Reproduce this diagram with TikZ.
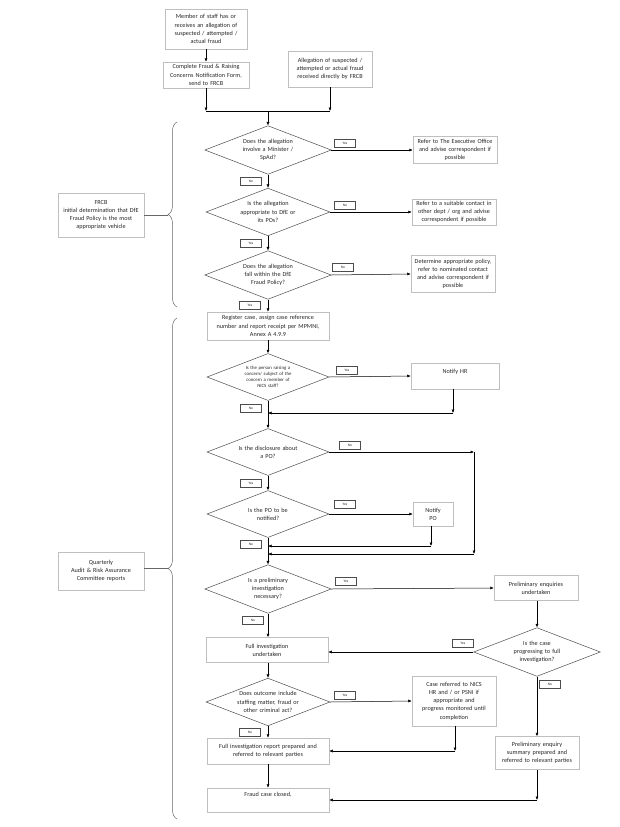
\documentclass[tikz,border=0pt]{standalone}
\usepackage{fontspec}
\setmainfont{Carlito}
\usetikzlibrary{arrows.meta, positioning, shapes.geometric, decorations.pathreplacing}

\begin{document}
\begin{tikzpicture}[
    x=1pt, y=-1pt,
    every node/.style={font=\fontsize{6.2}{8.2}\selectfont, text=black!85},
    box/.style={draw=black!25, line width=0.5pt, text width=#1, align=center, minimum height=24pt, inner sep=2pt},
    box/.default=78pt,
    decision/.style={draw=black!70, line width=0.5pt, diamond, aspect=2.6, minimum width=122pt, minimum height=47pt, inner sep=0pt, text width=70pt, align=center},
    tag/.style={draw=black!70, line width=0.4pt, font=\fontsize{3.6}{4}\selectfont, minimum width=21pt, minimum height=8pt, inner sep=0pt},
    arrow/.style={-{Latex[length=3.5pt,width=3pt]}, line width=0.5pt},
    line/.style={line width=0.5pt},
    curly/.style={draw=black!60, line width=0.5pt, decorate, decoration={brace, amplitude=9pt}}]

\useasboundingbox (0,0) rectangle (620,827);

% entry
\node[box, minimum height=40pt] (member) at (206,29) {Member of staff has or\\ receives an allegation of\\ suspected / attempted /\\ actual fraud};
\node[box=82pt, minimum height=26pt] (complete) at (206,75) {Complete Fraud \& Raising\\ Concerns Notification Form,\\ send to FRCB};
\node[box=80pt, minimum height=36pt] (direct) at (330,69) {Allegation of suspected /\\ attempted or actual fraud\\ received directly by FRCB};
\coordinate (join) at (268,111);

% initial determination
\node[decision] (minister) at (268,150) {Does the allegation\\ involve a Minister /\\ SpAd?};
\node[box=80pt, minimum height=27pt] (exec) at (455,150) {Refer to The Executive Office\\ and advise correspondent if\\ possible};
\node[decision] (approp) at (268,212) {Is the allegation\\ appropriate to DfE or\\ its POs?};
\node[box=80pt, minimum height=25pt] (contact) at (454,212) {Refer to a suitable contact in\\ other dept / org and advise\\ correspondent if possible};
\node[decision] (policy) at (268,275) {Does the allegation\\ fall within the DfE\\ Fraud Policy?};
\node[box=80pt, minimum height=37pt] (nominated) at (453,274) {Determine appropriate policy,\\ refer to nominated contact\\ and advise correspondent if\\ possible};

% register and notify
\node[box=118pt, minimum height=28pt] (register) at (268,326) {Register case, assign case reference\\ number and report receipt per MPMNI,\\ Annex A 4.9.9};
\node[decision, text width=50pt, font=\fontsize{4.8}{6}\selectfont] (staff) at (268,377) {Is the person raising a\\ concern/ subject of the\\ concern a member of\\ NICS staff?};
\node[box=84pt, minimum height=26pt, text depth=9pt] (hr) at (455,376) {Notify HR};
\node[decision] (aboutpo) at (268,452) {Is the disclosure about\\ a PO?};
\node[decision] (notifypo) at (268,514) {Is the PO to be\\ notified?};
\node[box=36pt] (po) at (433,514) {Notify\\ PO};
\coordinate (hrj) at (453,413);
\coordinate (mainhr) at (268,413);
\coordinate (poturn) at (474,452);
\coordinate (pobelow) at (474,554);
\coordinate (mainno) at (268,554);
\coordinate (poj) at (431,546);
\coordinate (mainpo) at (268,546);

% investigation
\node[decision] (prelimq) at (268,589) {Is a preliminary\\ investigation\\ necessary?};
\node[box=80pt, minimum height=25pt] (prelim) at (536,588) {Preliminary enquiries\\ undertaken};
\node[decision] (progress) at (537,652) {Is the case\\ progressing to full\\ investigation?};
\node[box=118pt, minimum height=25pt] (full) at (267,650) {Full investigation\\ undertaken};
\node[decision] (outcome) at (268,702) {Does outcome include\\ staffing matter, fraud or\\ other criminal act?};
\node[box=80pt, minimum height=50pt] (nics) at (454,701) {Case referred to NICS\\ HR and / or PSNI if\\ appropriate and\\ progress monitored until\\ completion};
\node[box=118pt, minimum height=26pt] (report) at (268,751) {Full investigation report prepared and\\ referred to relevant parties};
\node[box=80pt, minimum height=33pt] (summary) at (537,753) {Preliminary enquiry\\ summary prepared and\\ referred to relevant parties};
\node[box=118pt, minimum height=24pt, text depth=11pt] (closed) at (268,800) {Fraud case closed,};
\coordinate (nicsj) at (455,751);
\coordinate (sumj) at (537,800);

% side notes
\node[box=82pt, minimum height=44pt] (frcb) at (101,215) {FRCB\\ initial determination that DfE\\ Fraud Policy is the most\\ appropriate vehicle};
\node[box=82pt, minimum height=38pt] (quarterly) at (101,571) {Quarterly\\ Audit \& Risk Assurance\\ Committee reports};
\draw[curly] (177,307) -- (177,122);
\draw[curly] (177,819) -- (177,318);
\coordinate (frcbtip) at (168,215);
\coordinate (quartip) at (168,568);
\draw[draw=black!60, line width=0.5pt] (frcb.east) -- (frcbtip);
\draw[draw=black!60, line width=0.5pt] (quarterly.east |- quartip) -- (quartip);

% connectors
\draw[arrow] (member) -- (complete);
\draw[arrow] (complete.south) -- (complete.south |- join);
\draw[arrow] (direct.south) -- (direct.south |- join);
\draw[line] (complete.south |- join) -- (direct.south |- join);
\draw[arrow] (join) -- (minister.north);
\draw[arrow] (minister.east) -- (exec.west);
\draw[arrow] (minister.south) -- (approp.north);
\draw[arrow] (approp.east) -- (contact.west);
\draw[arrow] (approp.south) -- (policy.north);
\draw[arrow] (policy.east) -- (nominated.west);
\draw[arrow] (policy.south) -- (register.north);
\draw[arrow] (register) -- (staff.north);
\draw[arrow] (staff.east) -- (hr.west);
\draw[arrow] (hr.south -| hrj) -- (hrj);
\draw[arrow] (hrj) -- (mainhr);
\draw[arrow] (staff.south) -- (aboutpo.north);
\draw[arrow] (aboutpo.east) -- (poturn);
\draw[arrow] (poturn) -- (pobelow);
\draw[arrow] (pobelow) -- (mainno);
\draw[arrow] (aboutpo.south) -- (notifypo.north);
\draw[arrow] (notifypo.east) -- (po.west);
\draw[arrow] (po.south -| poj) -- (poj);
\draw[arrow] (poj) -- (mainpo);
\draw[arrow] (notifypo.south) -- (prelimq.north);
\draw[arrow] (prelimq.east) -- (prelim.west);
\draw[arrow] (prelim.south -| progress.north) -- (progress.north);
\draw[arrow] (progress.west) -- (progress.west -| full.east);
\draw[arrow] (progress.south) -- (summary.north);
\draw[arrow] (prelimq.south) -- (prelimq.south |- full.north);
\draw[arrow] (full.south -| outcome.north) -- (outcome.north);
\draw[arrow] (outcome.east) -- (nics.west);
\draw[arrow] (outcome.south) -- (report.north);
\draw[arrow] (nics.south -| nicsj) -- (nicsj);
\draw[arrow] (nicsj) -- (nicsj -| report.east);
\draw[arrow] (report.south) -- (closed.north);
\draw[arrow] (summary.south) -- (sumj);
\draw[arrow] (sumj) -- (sumj -| closed.east);

% yes / no tags
\node[tag] (t1) at (345,143) {Yes};
\node[tag] (t2) at (251,181) {No};
\node[tag] (t3) at (345,205) {No};
\node[tag] (t4) at (251,243) {Yes};
\node[tag] (t5) at (343,267) {No};
\node[tag] (t6) at (250,305) {Yes};
\node[tag] (t7) at (347,370) {Yes};
\node[tag] (t8) at (251,408) {No};
\node[tag] (t9) at (350,445) {No};
\node[tag] (t10) at (251,483) {Yes};
\node[tag] (t11) at (345,504) {Yes};
\node[tag] (t12) at (251,544) {No};
\node[tag] (t13) at (346,581) {Yes};
\node[tag] (t14) at (253,620) {No};
\node[tag] (t15) at (463,643) {Yes};
\node[tag] (t16) at (550,684) {No};
\node[tag] (t17) at (345,695) {Yes};
\node[tag] (t18) at (250,732) {No};

\end{tikzpicture}
\end{document}
